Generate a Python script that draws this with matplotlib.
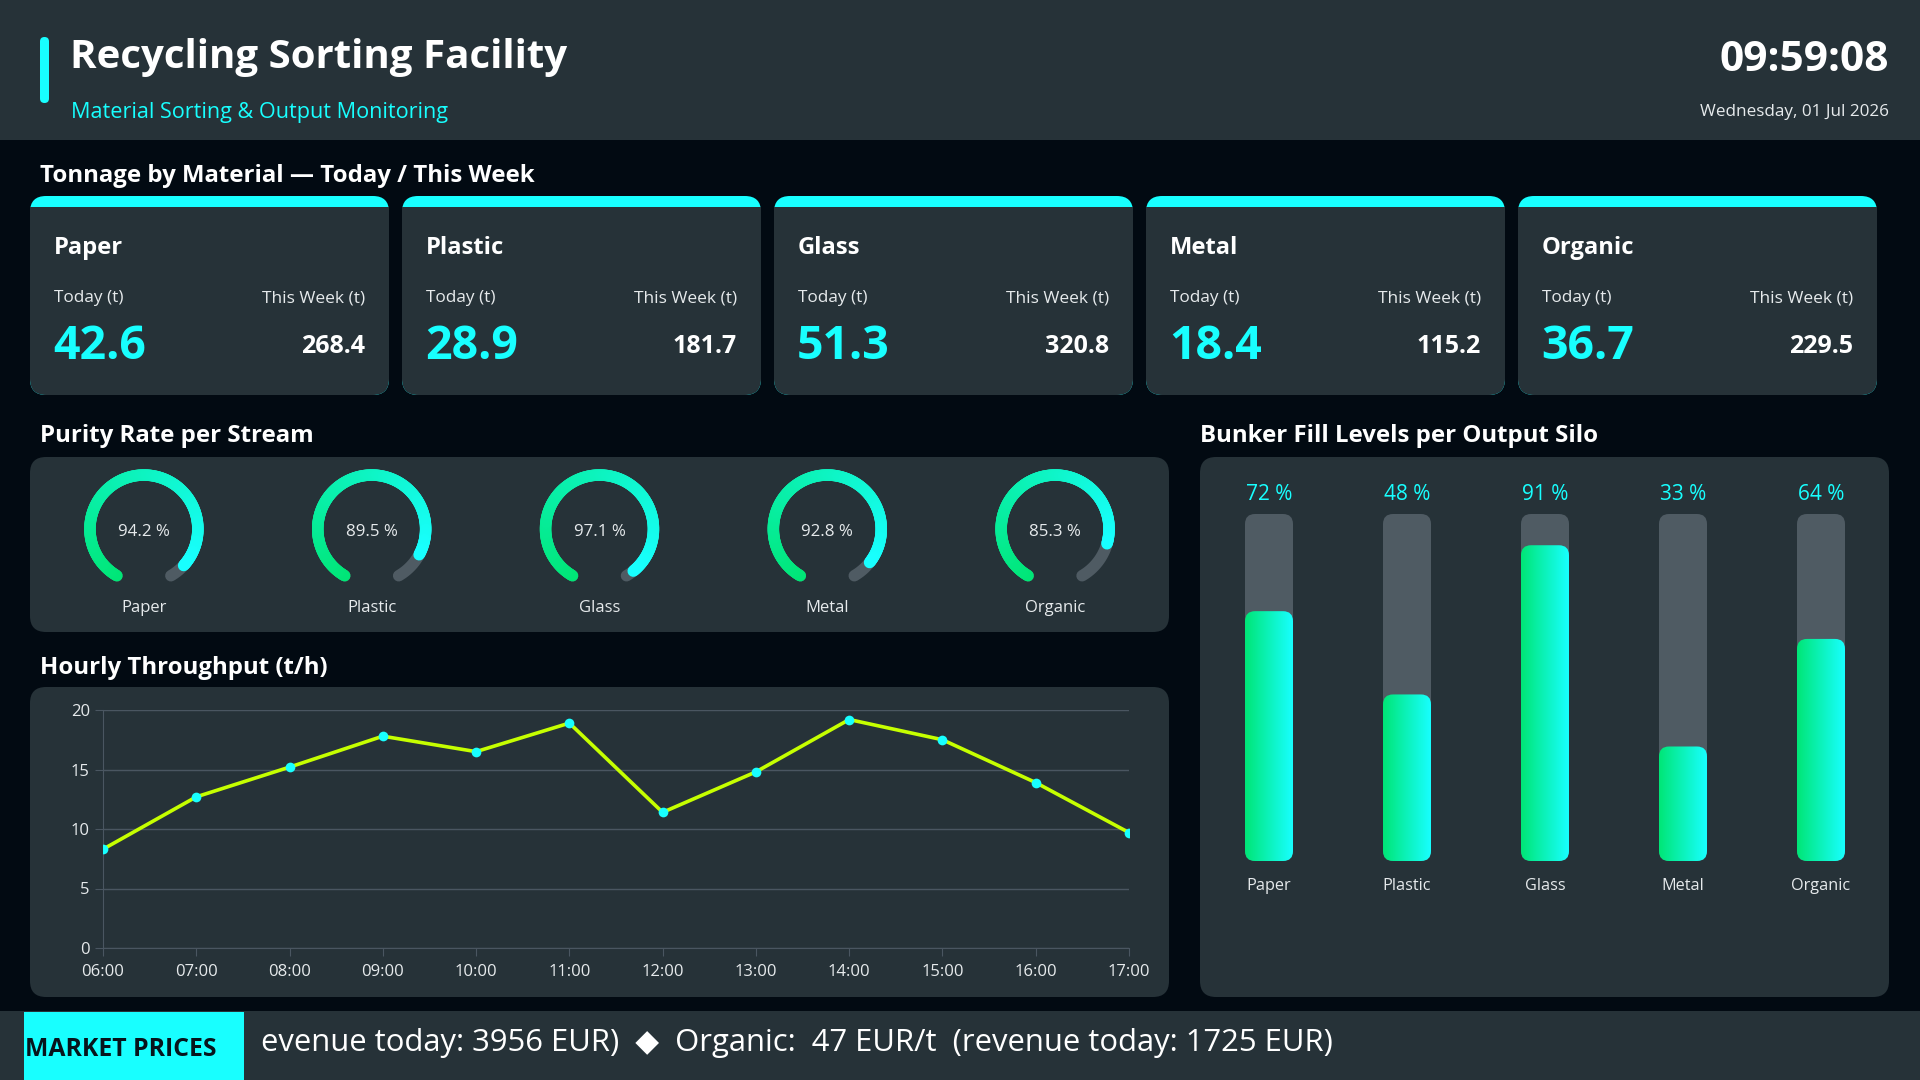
import numpy as np
import matplotlib
matplotlib.use("Agg")
import matplotlib.pyplot as plt
from matplotlib.patches import FancyBboxPatch, Rectangle
from matplotlib.collections import LineCollection
from matplotlib.colors import LinearSegmentedColormap

plt.rcParams['font.family'] = ['Open Sans', 'DejaVu Sans']

# ---- data ----
materials = ["Paper", "Plastic", "Glass", "Metal", "Organic"]
today_t = [42.6, 28.9, 51.3, 18.4, 36.7]
week_t = [268.4, 181.7, 320.8, 115.2, 229.5]
purity_pct = [94.2, 89.5, 97.1, 92.8, 85.3]
fill_pct = [72, 48, 91, 33, 64]
hours = ["06:00", "07:00", "08:00", "09:00", "10:00", "11:00",
         "12:00", "13:00", "14:00", "15:00", "16:00", "17:00"]
throughput = [8.3, 12.7, 15.2, 17.8, 16.5, 18.9, 11.4, 14.8, 19.2, 17.5, 13.9, 9.7]
ticker_text = "evenue today: 3956 EUR)  \u25c6  Organic:  47 EUR/t  (revenue today: 1725 EUR)"

# ---- colours ----
PAGE = "#020a12"
PANEL = "#263238"
TRACK = "#4f5b63"
CYAN = "#18ffff"
GREEN = "#00e676"
LIME = "#c6ff00"
GRID = "#4a5661"
TXT = "#e6eaec"
grad = LinearSegmentedColormap.from_list("g2c", [GREEN, CYAN])

W, H = 1920, 1080
DY = 3.5  # matplotlib centres text a bit high, nudge down


def frac(x0, y0, x1, y1):
    # pixel box (top-left origin) -> figure fraction
    return [x0 / W, 1 - y1 / H, (x1 - x0) / W, (y1 - y0) / H]


fig = plt.figure(figsize=(19.2, 10.8), dpi=100, facecolor=PAGE)
bg = fig.add_axes([0, 0, 1, 1])
bg.set_xlim(0, W)
bg.set_ylim(H, 0)
bg.axis("off")


def rbox(x, y, w, h, r, color, z=1):
    p = FancyBboxPatch((x, y), w, h, boxstyle=f"round,pad=0,rounding_size={r}",
                       fc=color, ec="none", zorder=z)
    bg.add_patch(p)


def txt(x, y, s, **kw):
    kw.setdefault("va", "center")
    return bg.text(x, y + DY, s, **kw)


# header
bg.add_patch(Rectangle((0, 0), W, 140, fc=PANEL, ec="none"))
rbox(40, 37, 9, 66, 4.5, CYAN, 2)
txt(70, 54, "Recycling Sorting Facility", color="white", fontsize=29, fontweight="bold")
txt(71, 109, "Material Sorting & Output Monitoring", color=CYAN, fontsize=15.6)
txt(1889, 57, "09:59:08", color="white", fontsize=30.5, fontweight="bold", ha="right")
txt(1889, 108, "Wednesday, 01 Jul 2026", color=TXT, fontsize=12.3, ha="right")

# section titles
for x, y, s in [(40, 172, "Tonnage by Material \u2014 Today / This Week"),
                (40, 433, "Purity Rate per Stream"),
                (1200, 433, "Bunker Fill Levels per Output Silo"),
                (40, 664, "Hourly Throughput (t/h)")]:
    txt(x, y, s, color="white", fontsize=17.3, fontweight="bold")

# KPI cards
for i, m in enumerate(materials):
    x0 = 30 + 372 * i
    rbox(x0, 196, 359, 199, 16, CYAN, 1)
    rbox(x0, 207, 359, 188, 16, PANEL, 2)
    bg.add_patch(Rectangle((x0, 207), 359, 30, fc=PANEL, ec="none", zorder=2))
    txt(x0 + 24, 244, m, color="white", fontsize=17.1, fontweight="bold", zorder=3)
    txt(x0 + 24, 295, "Today (t)", color=TXT, fontsize=12.4, zorder=3)
    txt(x0 + 335, 295, "This Week (t)", color=TXT, fontsize=12.5, ha="right", zorder=3)
    txt(x0 + 23, 343, f"{today_t[i]:.1f}", color=CYAN, fontsize=33.5,
        fontweight="bold", zorder=3)
    txt(x0 + 335, 343, f"{week_t[i]:.1f}", color="white", fontsize=18,
        fontweight="bold", ha="right", zorder=3)

# panels
rbox(30, 457, 1139, 175, 16, PANEL)
rbox(30, 687, 1139, 310, 16, PANEL)
rbox(1200, 457, 689, 540, 16, PANEL)

# gauges
GLW = 8.3
for i, m in enumerate(materials):
    cx = 30 + 1139 / 5 * (i + 0.5)
    cy = 529
    ax = fig.add_axes(frac(cx - 75, cy - 75, cx + 75, cy + 75))
    ax.set_xlim(-1.39, 1.39)
    ax.set_ylim(-1.39, 1.39)
    ax.axis("off")
    th0, sweep = 240, 300
    full = np.radians(np.linspace(th0, th0 - sweep, 200))
    ax.plot(np.cos(full), np.sin(full), color=TRACK, lw=GLW, solid_capstyle="round")
    th = np.radians(np.linspace(th0, th0 - sweep * purity_pct[i] / 100, 200))
    pts = np.column_stack([np.cos(th), np.sin(th)])
    segs = np.stack([pts[:-1], pts[1:]], axis=1)
    lc = LineCollection(segs, colors=grad(np.linspace(0, 1, len(segs))),
                        linewidths=GLW, capstyle="round")
    ax.add_collection(lc)
    ax.text(0, -0.05, f"{purity_pct[i]:.1f} %", color=TXT, fontsize=12.2,
            ha="center", va="center")
    ax.text(0, -1.47, m, color=TXT, fontsize=12, ha="center", va="center",
            clip_on=False)

# hourly throughput line chart
lx = fig.add_axes(frac(103, 710, 1129, 948))
lx.set_facecolor("none")
xs = np.arange(len(hours))
lx.plot(xs, throughput, color=LIME, lw=2.6, zorder=3)
lx.plot(xs, throughput, "o", color=CYAN, ms=7, mec="none", zorder=4)
lx.set_xlim(0, len(hours) - 1)
lx.set_ylim(0, 20)
lx.set_xticks(xs)
lx.set_xticklabels(hours)
lx.set_yticks([0, 5, 10, 15, 20])
lx.grid(axis="y", color=GRID, lw=1)
lx.set_axisbelow(True)
for s in ["top", "right"]:
    lx.spines[s].set_visible(False)
for s in ["left", "bottom"]:
    lx.spines[s].set_color(GRID)
lx.tick_params(colors=GRID, labelcolor=TXT, labelsize=12, length=6)
lx.tick_params(axis="x", pad=5.5)

# bunker fill bars
bx = fig.add_axes(frac(1200, 514, 1890, 861))
bx.axis("off")
bw = 48 / 138
r = 10 / 138
asp = (10 / 3.47) / r
gimg = np.linspace(0, 1, 256).reshape(1, -1)
for i, m in enumerate(materials):
    trk = FancyBboxPatch((i - bw / 2, 0), bw, 100,
                         boxstyle=f"round,pad=0,rounding_size={r}",
                         mutation_aspect=asp, fc=TRACK, ec="none")
    bx.add_patch(trk)
    fill = FancyBboxPatch((i - bw / 2, 0), bw, fill_pct[i],
                          boxstyle=f"round,pad=0,rounding_size={r}",
                          mutation_aspect=asp, fc="none", ec="none")
    bx.add_patch(fill)
    im = bx.imshow(gimg, cmap=grad, extent=[i - bw / 2, i + bw / 2, 0, fill_pct[i]],
                   aspect="auto", zorder=3)
    im.set_clip_path(fill)
    bx.annotate(f"{fill_pct[i]} %", (i, 100), xytext=(0, 13.8), textcoords="offset points",
                ha="center", va="center", color=CYAN, fontsize=15)
    bx.annotate(m, (i, 0), xytext=(0, -18), textcoords="offset points",
                ha="center", va="center", color=TXT, fontsize=11.7)
bx.set_xlim(-0.5, 4.5)
bx.set_ylim(0, 100)

# ticker
bg.add_patch(Rectangle((0, 1011), W, 69, fc=PANEL, ec="none"))
bg.add_patch(Rectangle((24, 1012), 220, 68, fc=CYAN, ec="none", zorder=2))
txt(25, 1046, "MARKET PRICES", color="#07141c", fontsize=17.8, fontweight="bold", zorder=3)
txt(261, 1040, ticker_text, color="white", fontsize=22.3)

fig.savefig("out.png", dpi=100, facecolor=PAGE)
